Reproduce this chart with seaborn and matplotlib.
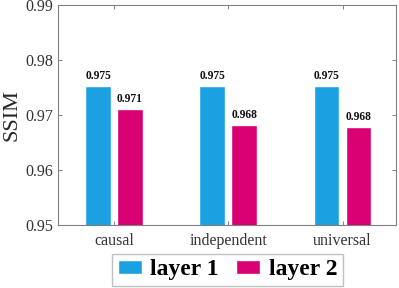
import pandas as pd
import matplotlib
matplotlib.use("Agg")
import matplotlib.pyplot as plt
import seaborn as sns

categories = ["causal", "independent", "universal"]
layer1 = [0.9753, 0.9753, 0.9753]
layer2 = [0.9711, 0.9681, 0.9678]
series_names = ["layer 1", "layer 2"]
y_ticks = [0.95, 0.96, 0.97, 0.98, 0.99]

df = pd.DataFrame({
    "method": categories * 2,
    "layer": [series_names[0]] * 3 + [series_names[1]] * 3,
    "ssim": layer1 + layer2,
})

sns.set_theme(style="white")
plt.rcParams["font.family"] = ["Liberation Serif", "DejaVu Serif"]

fig = plt.figure(figsize=(3.99, 2.88), dpi=100)
ax = fig.add_axes([0.1454, 0.2188, 0.8471, 0.7639])

palette = {"layer 1": "#1ba1e2", "layer 2": "#d80073"}
sns.barplot(data=df, x="method", y="ssim", hue="layer", palette=palette,
            width=0.56, gap=0.19, saturation=1, ax=ax, legend=True)

# value labels above each bar
for cont in ax.containers:
    ax.bar_label(cont, fmt="%.3f", padding=3, fontsize=8.3, fontweight="bold",
                 color="#111111")

ax.set_ylim(0.95, 0.99)
ax.set_xlim(-0.49, 2.468)
ax.set_yticks(y_ticks)
ax.set_yticklabels([f"{t:.2f}" for t in y_ticks])
ax.set_xlabel("")
ax.set_ylabel("SSIM", fontsize=16, labelpad=3)
ax.tick_params(axis="both", direction="in", labelsize=11.5, labelcolor="#333333",
               color="#808080", length=3, width=0.7, top=True, right=True,
               left=True, bottom=True)
ax.tick_params(axis="x", pad=6)
for s in ax.spines.values():
    s.set_color("#808080")
    s.set_linewidth(0.8)

ax.legend(loc="center", bbox_to_anchor=(0.570, 0.0625),
          bbox_transform=fig.transFigure, ncol=2, frameon=True, fancybox=False,
          edgecolor="#b0b0b0", labelcolor="black",
          prop={"size": 17, "weight": "bold"},
          handlelength=1.02, handleheight=0.5, handletextpad=0.35,
          columnspacing=0.75, borderpad=0.25, borderaxespad=0)

fig.savefig("out.png", dpi=100)
